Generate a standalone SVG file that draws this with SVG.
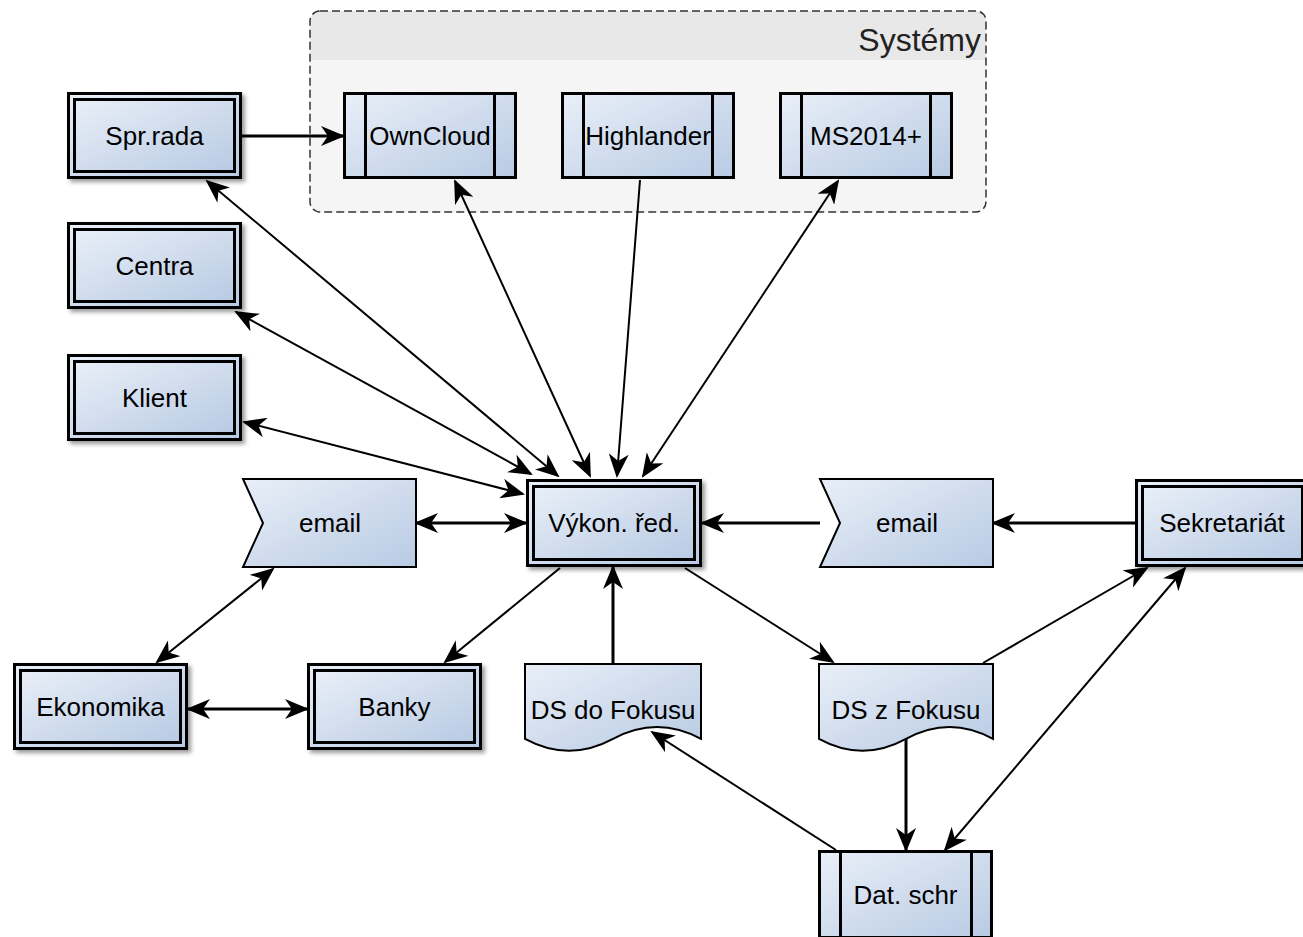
<svg xmlns="http://www.w3.org/2000/svg" width="1303" height="937" viewBox="0 0 1303 937">
<defs>
<linearGradient id="g" x1="0" y1="0" x2="1" y2="1">
<stop offset="0" stop-color="#e9eff8"/>
<stop offset="1" stop-color="#b8cae3"/>
</linearGradient>
<filter id="sh" x="-10%" y="-10%" width="130%" height="130%">
<feDropShadow dx="3" dy="3" stdDeviation="2" flood-color="#000" flood-opacity="0.4"/>
</filter>
<marker id="a" viewBox="0 0 24 20" refX="22" refY="10" markerWidth="24" markerHeight="20" markerUnits="userSpaceOnUse" orient="auto-start-reverse">
<path d="M0,0 L24,10 L0,20 L7,10 Z" fill="#000"/>
</marker>
</defs>
<style>
.lbl{font-family:"Liberation Sans",Arial,Helvetica,sans-serif;font-size:26px;fill:#000;text-anchor:middle}
.ttl{font-family:"Liberation Sans",Arial,Helvetica,sans-serif;font-size:32px;fill:#222;text-anchor:end}
.dbl{fill:url(#g);stroke:#000;stroke-width:3}
.proc{fill:url(#g);stroke:#000;stroke-width:3}
.pl{stroke:#000;stroke-width:3;fill:none}
.shape{fill:url(#g);stroke:#000;stroke-width:2}
.thin{stroke:#000;stroke-width:2;fill:none}
.thick{stroke:#000;stroke-width:3;fill:none}
</style>
<rect width="1303" height="937" fill="#fff"/>

<g id="systemy">
<rect x="310" y="11" width="676" height="201" rx="10" fill="#f5f5f5"/>
<path d="M310,21 A10,10 0 0 1 320,11 H976 A10,10 0 0 1 986,21 V60 H310 Z" fill="#e8e8e8"/>
<rect x="310" y="11" width="676" height="201" rx="10" fill="none" stroke="#333" stroke-width="1.5" stroke-dasharray="8 4"/>
<text class="ttl" x="981" y="51">Systémy</text>
</g>

<g id="connectors">
<path class="thin" d="M207,181 L558,476" marker-start="url(#a)" marker-end="url(#a)"/>
<path class="thin" d="M236,312 L531,474" marker-start="url(#a)" marker-end="url(#a)"/>
<path class="thin" d="M244,422 L523,494" marker-start="url(#a)" marker-end="url(#a)"/>
<path class="thin" d="M455,181 L590,476" marker-start="url(#a)" marker-end="url(#a)"/>
<path class="thin" d="M640,180 L617,476" marker-end="url(#a)"/>
<path class="thin" d="M838,181 L643,476" marker-start="url(#a)" marker-end="url(#a)"/>
<path class="thin" d="M273,569 L157,662" marker-start="url(#a)" marker-end="url(#a)"/>
<path class="thin" d="M560,568 L445,662" marker-end="url(#a)"/>
<path class="thin" d="M685,568 L833,662" marker-end="url(#a)"/>
<path class="thin" d="M983,663 L1147,568" marker-end="url(#a)"/>
<path class="thin" d="M1185,568 L945,850" marker-start="url(#a)" marker-end="url(#a)"/>
<path class="thin" d="M836,850 L652,732" marker-end="url(#a)"/>
<path class="thick" d="M242,136 L343,136" marker-end="url(#a)"/>
<path class="thick" d="M416,523 L526,523" marker-start="url(#a)" marker-end="url(#a)"/>
<path class="thick" d="M820,523 L702,523" marker-end="url(#a)"/>
<path class="thick" d="M1135,523 L993,523" marker-end="url(#a)"/>
<path class="thick" d="M188,709 L307,709" marker-start="url(#a)" marker-end="url(#a)"/>
<path class="thick" d="M613,664 L613,567" marker-end="url(#a)"/>
<path class="thick" d="M906,739 L906,850" marker-end="url(#a)"/>
</g>

<g id="spr-rada">
<g filter="url(#sh)"><rect class="dbl" x="68.5" y="93.5" width="172" height="84"/></g>
<rect class="dbl" x="74.5" y="99.5" width="160" height="72"/>
<text class="lbl" x="154.5" y="145">Spr.rada</text>
</g>
<g id="centra">
<g filter="url(#sh)"><rect class="dbl" x="68.5" y="223.5" width="172" height="84"/></g>
<rect class="dbl" x="74.5" y="229.5" width="160" height="72"/>
<text class="lbl" x="154.5" y="275">Centra</text>
</g>
<g id="klient">
<g filter="url(#sh)"><rect class="dbl" x="68.5" y="355.5" width="172" height="84"/></g>
<rect class="dbl" x="74.5" y="361.5" width="160" height="72"/>
<text class="lbl" x="154.5" y="407">Klient</text>
</g>

<g id="owncloud">
<rect class="proc" x="344.5" y="93.5" width="171" height="84"/>
<path class="pl" d="M365.5,93.5 V177.5 M494.5,93.5 V177.5"/>
<text class="lbl" x="430" y="145">OwnCloud</text>
</g>
<g id="highlander">
<rect class="proc" x="562.5" y="93.5" width="171" height="84"/>
<path class="pl" d="M583.5,93.5 V177.5 M712.5,93.5 V177.5"/>
<text class="lbl" x="648" y="145">Highlander</text>
</g>
<g id="ms2014">
<rect class="proc" x="780.5" y="93.5" width="171" height="84"/>
<path class="pl" d="M801.5,93.5 V177.5 M930.5,93.5 V177.5"/>
<text class="lbl" x="866" y="145">MS2014+</text>
</g>

<g id="email-left">
<path class="shape" d="M243,479 H416 V567 H243 L263,523 Z"/>
<text class="lbl" x="330" y="532">email</text>
</g>
<g id="vykon-red">
<g filter="url(#sh)"><rect class="dbl" x="527.5" y="480.5" width="173" height="85"/></g>
<rect class="dbl" x="533.5" y="486.5" width="161" height="73"/>
<text class="lbl" x="614" y="532">Výkon. řed.</text>
</g>
<g id="email-right">
<path class="shape" d="M820,479 H993 V567 H820 L840,523 Z"/>
<text class="lbl" x="907" y="532">email</text>
</g>
<g id="sekretariat">
<g filter="url(#sh)"><rect class="dbl" x="1136.5" y="480.5" width="172" height="85"/></g>
<rect class="dbl" x="1142.5" y="486.5" width="160" height="73"/>
<text class="lbl" x="1222" y="532">Sekretariát</text>
</g>

<g id="ekonomika">
<g filter="url(#sh)"><rect class="dbl" x="14.5" y="664.5" width="172" height="84"/></g>
<rect class="dbl" x="20.5" y="670.5" width="160" height="72"/>
<text class="lbl" x="100.5" y="716">Ekonomika</text>
</g>
<g id="banky">
<g filter="url(#sh)"><rect class="dbl" x="308.5" y="664.5" width="172" height="84"/></g>
<rect class="dbl" x="314.5" y="670.5" width="160" height="72"/>
<text class="lbl" x="394.5" y="716">Banky</text>
</g>

<g id="ds-do-fokusu">
<path class="shape" d="M525,664 H701 V738.8 Q657,715 613,738.8 Q569,762.6 525,738.8 Z"/>
<text class="lbl" x="613" y="719">DS do Fokusu</text>
</g>
<g id="ds-z-fokusu">
<path class="shape" d="M819,664 H993 V738.8 Q949.5,715 906,738.8 Q862.5,762.6 819,738.8 Z"/>
<text class="lbl" x="906" y="719">DS z Fokusu</text>
</g>

<g id="dat-schr">
<rect class="proc" x="819.5" y="851.5" width="172" height="86"/>
<path class="pl" d="M840.5,851.5 V937.5 M971.5,851.5 V937.5"/>
<text class="lbl" x="905.5" y="904">Dat. schr</text>
</g>
</svg>
